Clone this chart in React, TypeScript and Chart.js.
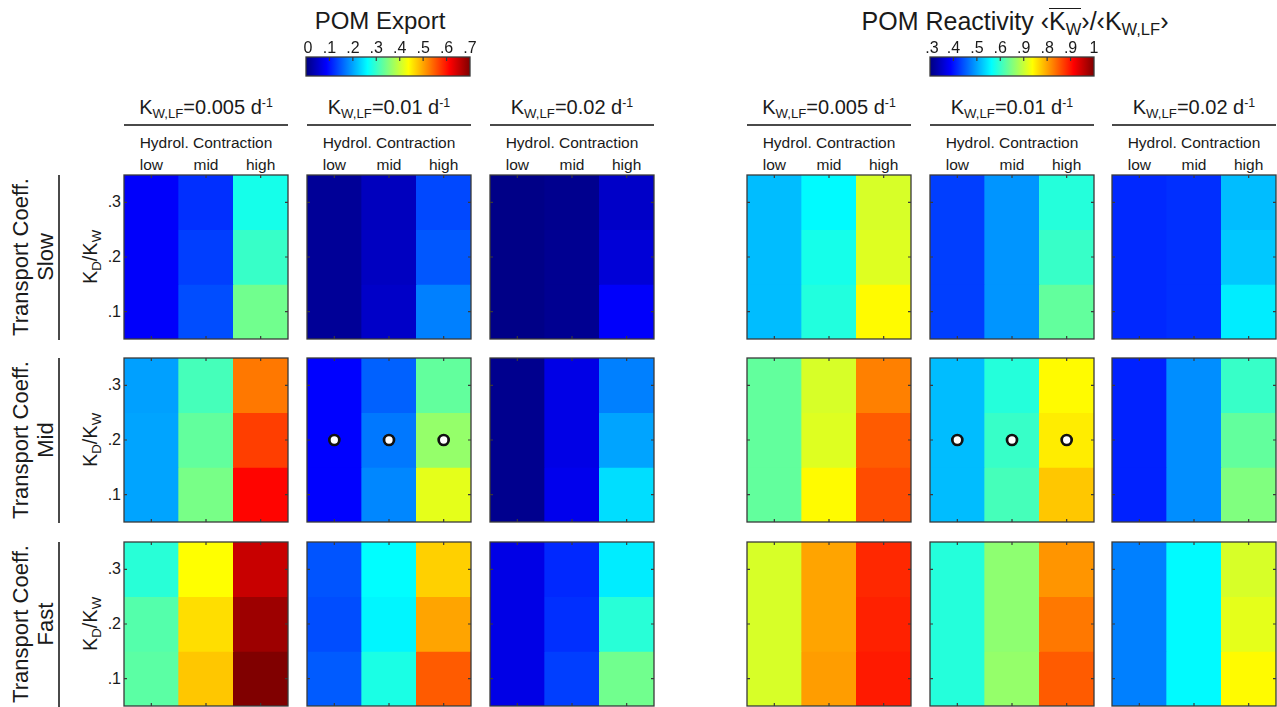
import React, { useEffect, useRef } from 'react';
import { Chart, registerables } from 'chart.js';
Chart.register(...registerables);

// ---------- data ----------
const HYDRO = ['low', 'mid', 'high'];
const KD_LEVELS = [0.3, 0.2, 0.1];
const KD_TICKS = ['.3', '.2', '.1'];
const K_WLF = ['0.005', '0.01', '0.02'];
const TRANSPORT = ['Slow', 'Mid', 'Fast'];

const EXPORT_RANGE = [0, 0.7];
const EXPORT_TICK_VALUES = [0, 0.1, 0.2, 0.3, 0.4, 0.5, 0.6, 0.7];
const EXPORT_TICK_LABELS = ['0', '.1', '.2', '.3', '.4', '.5', '.6', '.7'];
const REACT_RANGE = [0.3, 1.0];
const REACT_TICK_VALUES = [0.3, 0.4, 0.5, 0.6, 0.7, 0.8, 0.9, 1.0];
const REACT_TICK_LABELS = ['.3', '.4', '.5', '.6', '.9', '.8', '.9', '1'];

const MARKER_Y = [0.2, 0.2, 0.2];

// rows: Kd/Kw = .3, .2, .1 ; columns: low, mid, high
const EXP_SLOW_005 = [[0.085, 0.12, 0.277], [0.085, 0.13, 0.30], [0.085, 0.14, 0.34]];
const EXP_SLOW_01 = [[0.016, 0.043, 0.137], [0.016, 0.045, 0.147], [0.016, 0.05, 0.175]];
const EXP_SLOW_02 = [[0.005, 0.01, 0.05], [0.005, 0.012, 0.06], [0.005, 0.012, 0.085]];
const EXP_MID_005 = [[0.197, 0.31, 0.53], [0.20, 0.33, 0.57], [0.20, 0.345, 0.61]];
const EXP_MID_01 = [[0.088, 0.154, 0.33], [0.088, 0.17, 0.365], [0.088, 0.18, 0.42]];
const EXP_MID_02 = [[0.01, 0.07, 0.175], [0.01, 0.07, 0.20], [0.01, 0.075, 0.24]];
const EXP_FAST_005 = [[0.29, 0.4375, 0.65], [0.32, 0.46, 0.68], [0.325, 0.476, 0.70]];
const EXP_FAST_01 = [[0.145, 0.262, 0.47], [0.14, 0.256, 0.50], [0.15, 0.28, 0.55]];
const EXP_FAST_02 = [[0.07, 0.115, 0.25], [0.07, 0.12, 0.29], [0.07, 0.13, 0.34]];

const RCT_SLOW_005 = [[0.517, 0.56, 0.71], [0.517, 0.577, 0.715], [0.517, 0.585, 0.74]];
const RCT_SLOW_01 = [[0.43, 0.49, 0.587], [0.43, 0.49, 0.60], [0.43, 0.49, 0.63]];
const RCT_SLOW_02 = [[0.415, 0.42, 0.517], [0.415, 0.42, 0.525], [0.415, 0.42, 0.55]];
const RCT_MID_005 = [[0.63, 0.71, 0.825], [0.63, 0.715, 0.85], [0.63, 0.74, 0.86]];
const RCT_MID_01 = [[0.517, 0.587, 0.74], [0.517, 0.60, 0.75], [0.517, 0.61, 0.776]];
const RCT_MID_02 = [[0.41, 0.485, 0.60], [0.41, 0.485, 0.63], [0.41, 0.485, 0.65]];
const RCT_FAST_005 = [[0.71, 0.80, 0.885], [0.71, 0.80, 0.89], [0.71, 0.805, 0.895]];
const RCT_FAST_01 = [[0.587, 0.66, 0.81], [0.587, 0.66, 0.83], [0.587, 0.665, 0.85]];
const RCT_FAST_02 = [[0.475, 0.56, 0.71], [0.475, 0.56, 0.72], [0.475, 0.56, 0.74]];

const EXPORT_PANELS = [
  [EXP_SLOW_005, EXP_SLOW_01, EXP_SLOW_02],
  [EXP_MID_005, EXP_MID_01, EXP_MID_02],
  [EXP_FAST_005, EXP_FAST_01, EXP_FAST_02],
];
const REACT_PANELS = [
  [RCT_SLOW_005, RCT_SLOW_01, RCT_SLOW_02],
  [RCT_MID_005, RCT_MID_01, RCT_MID_02],
  [RCT_FAST_005, RCT_FAST_01, RCT_FAST_02],
];

// ---------- layout ----------
const FONT = '"Liberation Sans", Arial, Helvetica, sans-serif';
const SIZE = 164;
const GROUP_X = [[124, 307, 490], [747, 930, 1112]];
const ROW_Y = [175, 358, 542];
const CBAR_X = [306, 930];

function jetColor(t: number) {
  const tt = Math.min(1, Math.max(0, t));
  const c = (v: number) => Math.round(255 * Math.min(1, Math.max(0, v)));
  return `rgb(${c(1.5 - Math.abs(4 * tt - 3))},${c(1.5 - Math.abs(4 * tt - 2))},${c(1.5 - Math.abs(4 * tt - 1))})`;
}

const framePlugin = {
  id: 'frame',
  afterDraw(chart: any) {
    const { ctx, chartArea: a, scales } = chart;
    ctx.save();
    ctx.strokeStyle = '#3a3a3a';
    ctx.lineWidth = 1.3;
    ctx.strokeRect(a.left, a.top, a.right - a.left, a.bottom - a.top);
    ctx.beginPath();
    ctx.lineWidth = 1.2;
    HYDRO.forEach((_, i) => {
      const x = scales.x.getPixelForValue(i);
      ctx.moveTo(x, a.top);
      ctx.lineTo(x, a.top + 3);
      ctx.moveTo(x, a.bottom);
      ctx.lineTo(x, a.bottom - 3);
    });
    KD_LEVELS.forEach((l) => {
      const y = scales.y.getPixelForValue(l);
      ctx.moveTo(a.left, y);
      ctx.lineTo(a.left + 3, y);
      ctx.moveTo(a.right, y);
      ctx.lineTo(a.right - 3, y);
    });
    ctx.stroke();
    ctx.restore();
  },
};

function Heatmap({ values, range, left, top, markers }: any) {
  const ref = useRef<HTMLCanvasElement>(null);
  const pad = 3;
  useEffect(() => {
    const datasets: any[] = KD_LEVELS.map((lvl, ri) => ({
      type: 'bar',
      data: HYDRO.map(() => [lvl - 0.05, lvl + 0.05]),
      backgroundColor: values[ri].map((v: number) => jetColor((v - range[0]) / (range[1] - range[0]))),
      borderWidth: 0,
      barPercentage: 1,
      categoryPercentage: 1,
      grouped: false,
      order: 2,
    }));
    if (markers) {
      datasets.unshift({
        type: 'line',
        data: MARKER_Y,
        showLine: false,
        pointRadius: 5,
        pointBorderWidth: 2.7,
        pointBackgroundColor: '#ffffff',
        pointBorderColor: '#111111',
        order: 0,
      });
    }
    const chart = new Chart(ref.current as HTMLCanvasElement, {
      type: 'bar',
      data: { labels: HYDRO, datasets },
      options: {
        responsive: false,
        animation: false,
        events: [],
        layout: { padding: pad, autoPadding: false },
        plugins: { legend: { display: false }, tooltip: { enabled: false } },
        scales: {
          x: { type: 'category', display: false, offset: true },
          y: { type: 'linear', min: 0.05, max: 0.35, display: false },
        },
      },
      plugins: [framePlugin],
    } as any);
    return () => chart.destroy();
  }, []);
  return (
    <canvas
      ref={ref}
      width={SIZE + 2 * pad}
      height={SIZE + 2 * pad}
      style={{ position: 'absolute', left: left - pad, top: top - pad }}
    />
  );
}

const colorbarPlugin = {
  id: 'colorbar',
  afterDraw(chart: any) {
    const { ctx, chartArea: a, scales } = chart;
    const opts = chart.options.plugins.colorbar;
    ctx.save();
    const g = ctx.createLinearGradient(a.left, 0, a.right, 0);
    for (let i = 0; i <= 40; i++) g.addColorStop(i / 40, jetColor(i / 40));
    ctx.fillStyle = g;
    ctx.fillRect(a.left, a.top, a.right - a.left, a.bottom - a.top);
    ctx.strokeStyle = '#3a3a3a';
    ctx.lineWidth = 1.3;
    ctx.strokeRect(a.left, a.top, a.right - a.left, a.bottom - a.top);
    ctx.beginPath();
    ctx.lineWidth = 1.2;
    opts.values.forEach((v: number, i: number) => {
      if (i === 0 || i === opts.values.length - 1) return;
      const x = scales.x.getPixelForValue(v);
      ctx.moveTo(x, a.top);
      ctx.lineTo(x, a.top + 4);
    });
    ctx.stroke();
    ctx.fillStyle = '#1a1a1a';
    ctx.font = `16px ${FONT}`;
    ctx.textAlign = 'center';
    ctx.textBaseline = 'middle';
    opts.values.forEach((v: number, i: number) => {
      const x = scales.x.getPixelForValue(v);
      ctx.fillText(opts.labels[i], x + (i === 0 ? 2 : 0), a.top - 8);
    });
    ctx.restore();
  },
};

function Colorbar({ left, range, values, labels }: any) {
  const ref = useRef<HTMLCanvasElement>(null);
  const padX = 14;
  useEffect(() => {
    const chart = new Chart(ref.current as HTMLCanvasElement, {
      type: 'scatter',
      data: { datasets: [] },
      options: {
        responsive: false,
        animation: false,
        events: [],
        layout: { padding: { left: padX, right: padX, top: 23, bottom: 2 }, autoPadding: false },
        plugins: {
          legend: { display: false },
          tooltip: { enabled: false },
          colorbar: { values, labels },
        },
        scales: {
          x: { type: 'linear', min: range[0], max: range[1], offset: false, display: false },
          y: { type: 'linear', min: 0, max: 1, display: false },
        },
      },
      plugins: [colorbarPlugin],
    } as any);
    return () => chart.destroy();
  }, []);
  return (
    <canvas
      ref={ref}
      width={SIZE + 2 * padX}
      height={44}
      style={{ position: 'absolute', left: left - padX, top: 34 }}
    />
  );
}

const subStyle: React.CSSProperties = { fontSize: '0.66em', position: 'relative', top: '0.3em' };
const supStyle: React.CSSProperties = { fontSize: '0.62em', position: 'relative', top: '-0.55em' };

function Rot({ cx, cy, size, children }: any) {
  return (
    <div
      style={{
        position: 'absolute',
        left: cx,
        top: cy,
        transform: 'translate(-50%, -50%) rotate(-90deg)',
        whiteSpace: 'nowrap',
        fontSize: size,
        lineHeight: `${size + 4}px`,
      }}
    >
      {children}
    </div>
  );
}

export default function App() {
  const groups = [
    { panels: EXPORT_PANELS, range: EXPORT_RANGE },
    { panels: REACT_PANELS, range: REACT_RANGE },
  ];
  return (
    <div
      style={{
        position: 'absolute',
        left: 0,
        top: 0,
        width: 1277,
        height: 707,
        overflow: 'hidden',
        background: '#ffffff',
        fontFamily: FONT,
        color: '#1a1a1a',
      }}
    >
      {/* titles */}
      <div style={{ position: 'absolute', left: 180, width: 400, top: 6, lineHeight: '30px', fontSize: 24, textAlign: 'center', whiteSpace: 'nowrap' }}>
        POM Export
      </div>
      <div style={{ position: 'absolute', left: 765, width: 500, top: 6, lineHeight: '30px', fontSize: 25, textAlign: 'center', whiteSpace: 'nowrap' }}>
        POM Reactivity ‹
        <span style={{ display: 'inline-block', borderTop: '1.6px solid #1a1a1a', lineHeight: '25px' }}>
          K<span style={subStyle}>W</span>
        </span>
        ›/‹K<span style={subStyle}>W,LF</span>›
      </div>

      <Colorbar left={CBAR_X[0]} range={EXPORT_RANGE} values={EXPORT_TICK_VALUES} labels={EXPORT_TICK_LABELS} />
      <Colorbar left={CBAR_X[1]} range={REACT_RANGE} values={REACT_TICK_VALUES} labels={REACT_TICK_LABELS} />

      {/* column headers */}
      {GROUP_X.map((xs, g) =>
        xs.map((x, c) => (
          <React.Fragment key={`h${g}${c}`}>
            <div style={{ position: 'absolute', left: x - 10, width: SIZE + 20, top: 94, lineHeight: '26px', fontSize: 20, textAlign: 'center', whiteSpace: 'nowrap' }}>
              K<span style={subStyle}>W,LF</span>={K_WLF[c]} d<span style={supStyle}>-1</span>
            </div>
            <div style={{ position: 'absolute', left: x, width: SIZE, top: 124, height: 1.6, background: '#4a4a4a' }} />
            <div style={{ position: 'absolute', left: x - 10, width: SIZE + 20, top: 134, lineHeight: '18px', fontSize: 15.5, textAlign: 'center', whiteSpace: 'nowrap' }}>
              Hydrol. Contraction
            </div>
            {HYDRO.map((h, i) => (
              <div key={h} style={{ position: 'absolute', left: x + (i + 0.5) * (SIZE / 3) - 30, width: 60, top: 156, lineHeight: '18px', fontSize: 15.5, textAlign: 'center' }}>
                {h}
              </div>
            ))}
          </React.Fragment>
        ))
      )}

      {/* row labels */}
      {ROW_Y.map((y, r) => (
        <React.Fragment key={`r${r}`}>
          <Rot cx={21} cy={y + SIZE / 2} size={22}>Transport Coeff.</Rot>
          <Rot cx={46} cy={y + SIZE / 2} size={22}>{TRANSPORT[r]}</Rot>
          <div style={{ position: 'absolute', left: 58, top: y, width: 1.6, height: SIZE + 1, background: '#4a4a4a' }} />
          <Rot cx={91} cy={y + SIZE / 2} size={20}>
            K<span style={subStyle}>D</span>/K<span style={subStyle}>W</span>
          </Rot>
          {KD_LEVELS.map((l, i) => (
            <div key={i} style={{ position: 'absolute', left: 91, width: 30, top: y + ((0.35 - l) / 0.3) * SIZE - 10, lineHeight: '20px', fontSize: 16, textAlign: 'right' }}>
              {KD_TICKS[i]}
            </div>
          ))}
        </React.Fragment>
      ))}

      {/* panels */}
      {groups.map((grp, g) =>
        ROW_Y.map((y, r) =>
          GROUP_X[g].map((x, c) => (
            <Heatmap
              key={`p${g}${r}${c}`}
              values={grp.panels[r][c]}
              range={grp.range}
              left={x}
              top={y}
              markers={TRANSPORT[r] === 'Mid' && K_WLF[c] === '0.01'}
            />
          ))
        )
      )}
    </div>
  );
}
